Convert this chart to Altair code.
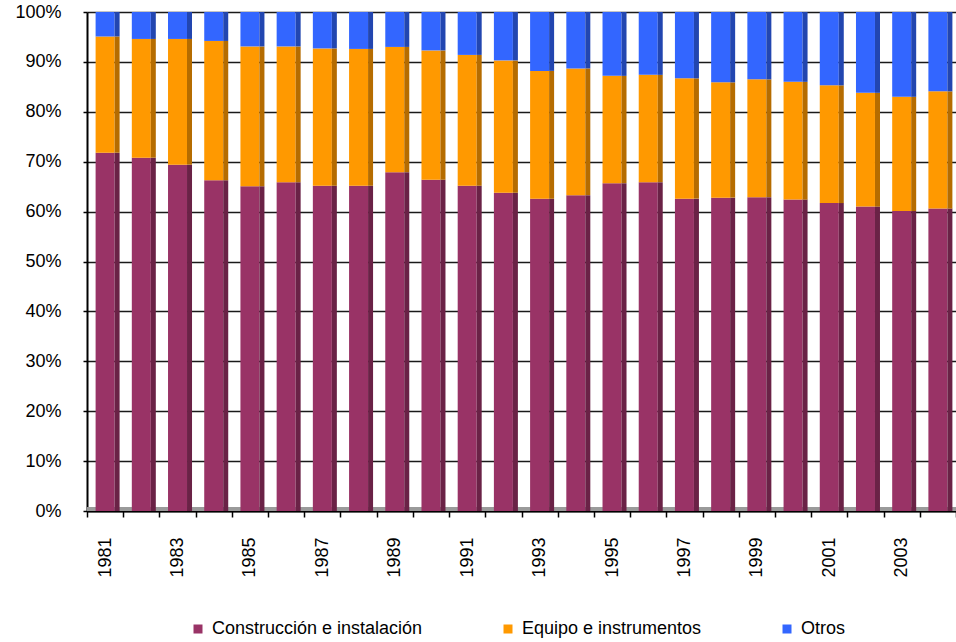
import altair as alt
import pandas as pd

years = ["1981", "1982", "1983", "1984", "1985", "1986", "1987", "1988",
         "1989", "1990", "1991", "1992", "1993", "1994", "1995", "1996",
         "1997", "1998", "1999", "2000", "2001", "2002", "2003", "2004"]
series = ["Construcción e instalación", "Equipo e instrumentos", "Otros"]

construccion = [71.8, 70.8, 69.4, 66.3, 65.1, 65.9, 65.2, 65.2, 67.9, 66.4, 65.2, 63.8,
                62.6, 63.3, 65.7, 65.9, 62.6, 62.8, 62.9, 62.4, 61.7, 61.0, 60.1, 60.6]
equipo = [23.3, 23.8, 25.2, 27.9, 28.0, 27.2, 27.5, 27.4, 25.1, 25.9, 26.2, 26.5,
          25.6, 25.4, 21.5, 21.5, 24.1, 23.1, 23.6, 23.6, 23.6, 22.8, 22.9, 23.5]
otros = [4.9, 5.4, 5.4, 5.8, 6.9, 6.9, 7.3, 7.4, 7.0, 7.7, 8.6, 9.7,
         11.8, 11.3, 12.8, 12.6, 13.3, 14.1, 13.5, 14.0, 14.7, 16.2, 17.0, 15.9]

front_colors = ["#993366", "#FF9900", "#3366FF"]
side_colors = ["#6a2246", "#b56c00", "#2246b0"]

rows = []
for i, yr in enumerate(years):
    for k, vals in enumerate([construccion, equipo, otros]):
        rows.append({"year": yr, "serie": series[k], "value": vals[i], "orden": k})
df = pd.DataFrame(rows)

FONT = "Liberation Sans"

x_enc = alt.X(
    "year:O",
    sort=years,
    scale=alt.Scale(paddingInner=0, paddingOuter=0),
    axis=alt.Axis(
        title=None,
        labelAngle=-90,
        labelAlign="right",
        labelBaseline="middle",
        labelFontSize=18,
        labelFont=FONT,
        labelColor="#000000",
        labelPadding=20,
        labelExpr="parseInt(datum.value) % 2 == 1 ? datum.label : ''",
        tickBand="extent",
        tickSize=6,
        tickColor="#000000",
        tickWidth=1.5,
        domainColor="#000000",
        domainWidth=2,
        grid=False,
    ),
)

y_enc = alt.Y(
    "value:Q",
    stack="zero",
    scale=alt.Scale(domain=[0, 100], nice=False),
    axis=alt.Axis(
        title=None,
        values=[0, 10, 20, 30, 40, 50, 60, 70, 80, 90, 100],
        labelExpr="datum.value + '%'",
        labelFontSize=18,
        labelFont=FONT,
        labelColor="#000000",
        labelPadding=22,
        tickSize=4,
        tickColor="#000000",
        tickWidth=1.5,
        domainColor="#000000",
        domainWidth=2,
        grid=True,
        gridColor="#1a1a1a",
        gridWidth=1.5,
    ),
)

base = alt.Chart(df)

floor = base.mark_rule(color="#9a9a9a", strokeWidth=4, yOffset=-2).encode(
    y=alt.datum(0),
    x=alt.value(0),
    x2=alt.value(869),
)

front = base.mark_bar(size=19).encode(
    x=x_enc,
    y=y_enc,
    order=alt.Order("orden:Q", sort="ascending"),
    color=alt.Color(
        "serie:N",
        sort=series,
        scale=alt.Scale(domain=series, range=front_colors),
        legend=alt.Legend(
            title=None,
            orient="none",
            legendX=102,
            legendY=608,
            direction="horizontal",
            columns=3,
            columnPadding=76,
            symbolType="square",
            symbolSize=81,
            symbolStrokeWidth=0,
            labelFontSize=18,
            labelFont=FONT,
            labelColor="#000000",
            labelOffset=5,
            labelLimit=400,
            padding=0,
        ),
    ),
)

side = base.mark_bar(size=5, xOffset=12).encode(
    x=x_enc,
    y=y_enc,
    order=alt.Order("orden:Q", sort="ascending"),
    fill=alt.Fill(
        "serie:N",
        sort=series,
        scale=alt.Scale(domain=series, range=side_colors),
        legend=None,
    ),
)

chart = (
    alt.layer(floor, front, side)
    .resolve_scale(color="independent", fill="independent")
    .properties(
        width=869,
        height=499,
        padding={"left": 87, "top": 12, "right": 0, "bottom": 131},
        autosize=alt.AutoSizeParams(type="none"),
        background="#ffffff",
    )
    .configure_view(stroke=None)
)

chart.save("out.html", embed_options={"renderer": "svg", "actions": False})
